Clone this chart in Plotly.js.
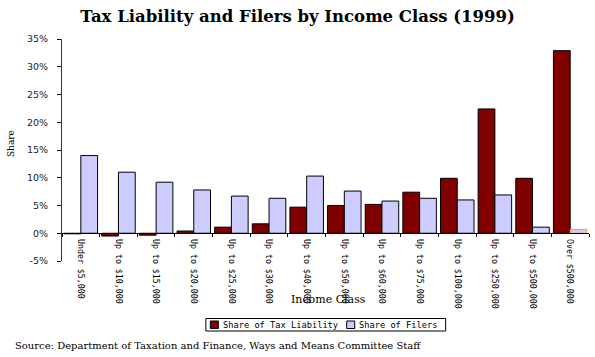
<!DOCTYPE html>
<html>
<head>
<meta charset="utf-8">
<script src="https://cdn.plot.ly/plotly-3.0.1.min.js"></script>
<style>html,body{margin:0;padding:0;background:#fff;}#chart{width:595px;height:357px;}</style>
</head>
<body>
<div id="chart"></div>
<script>
// ---- data ----
var categories = ["Under $5,000","Up to $10,000","Up to $15,000","Up to $20,000","Up to $25,000","Up to $30,000","Up to $40,000","Up to $50,000","Up to $60,000","Up to $75,000","Up to $100,000","Up to $250,000","Up to $500,000","Over $500,000"];
var taxShare = [-0.1, -0.5, -0.35, 0.4, 1.1, 1.7, 4.7, 5.0, 5.2, 7.4, 9.9, 22.4, 9.9, 32.9];
var filerShare = [14.0, 11.0, 9.2, 7.8, 6.7, 6.3, 10.3, 7.6, 5.8, 6.3, 6.0, 6.9, 1.1, 0.7];
var seriesNames = ["Share of Tax Liability", "Share of Filers"];
var yTicks = [-5, 0, 5, 10, 15, 20, 25, 30, 35];
var titleText = "Tax Liability and Filers by Income Class (1999)";
var sourceText = "Source: Department of Taxation and Finance, Ways and Means Committee Staff";

// ---- layout geometry ----
var W = 595, H = 357;
var M = {l: 62, r: 5.5, t: 39, b: 96};
var PW = W - M.l - M.r, PH = H - M.t - M.b;
function px(x){ return (x - M.l) / PW; }
function py(y){ return (H - M.b - y) / PH; }

var colors = ["#800000", "#CCCCFF"];
var filerLine = filerShare.map(function(v, i){ return i === filerShare.length - 1 ? "#FF9933" : "#000000"; });

var traces = [
  {type: "bar", name: seriesNames[0], x: categories, y: taxShare,
   marker: {color: colors[0], line: {color: "#000", width: 1}}, showlegend: false, hoverinfo: "x+y"},
  {type: "bar", name: seriesNames[1], x: categories, y: filerShare,
   marker: {color: colors[1], line: {color: filerLine, width: 1}}, showlegend: false, hoverinfo: "x+y"}
];

var legFont = {family: "DejaVu Sans Mono", size: 8.7, color: "#000"};
var layout = {
  width: W, height: H,
  margin: M,
  paper_bgcolor: "#fff", plot_bgcolor: "#fff",
  barmode: "group", bargap: 0.11, bargroupgap: 0,
  showlegend: false,
  title: {text: "<b>" + titleText + "</b>", font: {family: "DejaVu Serif", size: 16.5, color: "#000"},
          x: 297.5 / W, xref: "container", xanchor: "center", y: 1 - 16.5/H, yref: "container", yanchor: "middle"},
  xaxis: {type: "category", anchor: "free", position: 5/40,
          showline: true, linecolor: "#000", linewidth: 1,
          ticks: "outside", tickson: "boundaries", ticklen: 3, tickcolor: "#000",
          tickangle: 90, ticklabelstandoff: 3, tickfont: {family: "DejaVu Sans Mono", size: 8.3, color: "#000"},
          showgrid: false, zeroline: false, automargin: false},
  yaxis: {range: [-5, 35], tickvals: yTicks, ticktext: yTicks.map(function(v){return v + "%";}),
          showline: true, linecolor: "#333", linewidth: 1,
          ticks: "outside", ticklen: 4, tickcolor: "#000", ticklabelstandoff: 7,
          tickfont: {family: "DejaVu Sans", size: 9.5, color: "#222"},
          showgrid: false, zeroline: false, automargin: false},
  shapes: [
    {type: "rect", xref: "paper", yref: "paper", x0: px(206), x1: px(446), y0: py(318.5), y1: py(331), line: {color: "#000", width: 1}, fillcolor: "#fff", layer: "above"},
    {type: "rect", xref: "paper", yref: "paper", x0: px(210.5), x1: px(218.5), y0: py(321), y1: py(328.5), line: {color: "#000", width: 1}, fillcolor: colors[0], layer: "above"},
    {type: "rect", xref: "paper", yref: "paper", x0: px(347), x1: px(355), y0: py(321), y1: py(328.5), line: {color: "#000", width: 1}, fillcolor: colors[1], layer: "above"}
  ],
  annotations: [
    {text: seriesNames[0], xref: "paper", yref: "paper", x: px(221.5), y: py(325), xanchor: "left", yanchor: "middle", showarrow: false, font: legFont},
    {text: seriesNames[1], xref: "paper", yref: "paper", x: px(357), y: py(325), xanchor: "left", yanchor: "middle", showarrow: false, font: legFont},
    {text: "Income Class", xref: "paper", yref: "paper", x: px(329), y: py(299), xanchor: "center", yanchor: "middle", showarrow: false, font: {family: "DejaVu Serif", size: 11, color: "#000"}},
    {text: "Share", xref: "paper", yref: "paper", x: px(11), y: py(144), xanchor: "center", yanchor: "middle", textangle: -90, showarrow: false, font: {family: "DejaVu Serif", size: 9, color: "#000"}},
    {text: sourceText, xref: "paper", yref: "paper", x: px(13), y: py(346), xanchor: "left", yanchor: "middle", showarrow: false, font: {family: "DejaVu Serif", size: 10, color: "#000"}}
  ]
};

Plotly.newPlot("chart", traces, layout, {displayModeBar: false, staticPlot: true});
</script>
</body>
</html>
